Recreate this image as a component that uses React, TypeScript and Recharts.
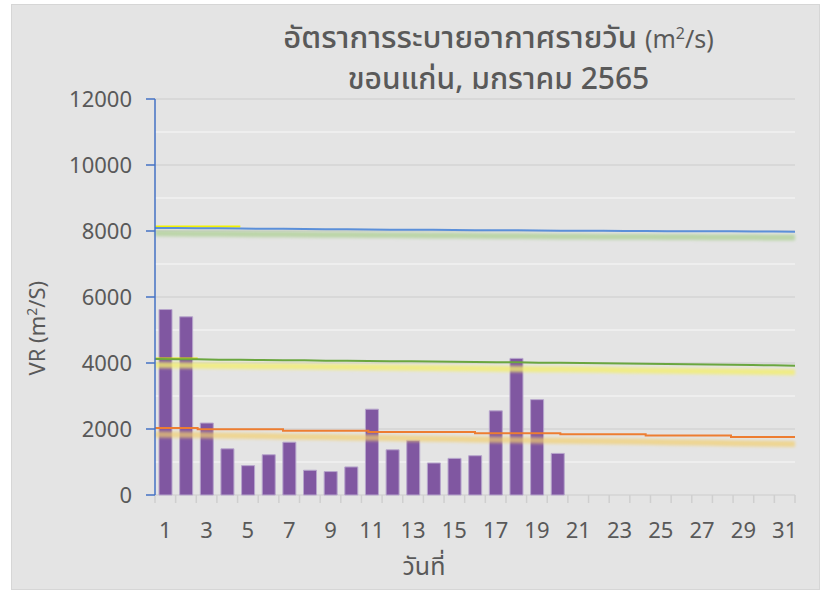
import React from "react";
import {
  ComposedChart,
  Bar,
  Line,
  XAxis,
  YAxis,
  CartesianGrid,
} from "recharts";

// วันที่ 1-31
const days = [
  1, 2, 3, 4, 5, 6, 7, 8, 9, 10, 11, 12, 13, 14, 15, 16, 17, 18, 19, 20, 21,
  22, 23, 24, 25, 26, 27, 28, 29, 30, 31,
];

// daily ventilation rate (bars), only 20 days reported
const vr = [
  5620, 5400, 2180, 1400, 890, 1220, 1600, 750, 710, 850, 2600, 1370, 1660,
  970, 1110, 1190, 2550, 4140, 2890, 1260,
];

// threshold lines
const blueLine = [
  8090, 8090, 8085, 8080, 8075, 8070, 8065, 8060, 8055, 8050, 8045, 8040, 8040,
  8035, 8030, 8025, 8020, 8020, 8015, 8010, 8010, 8005, 8000, 8000, 7995, 7995,
  7990, 7990, 7985, 7985, 7980,
];
const greenLine = [
  4120, 4115, 4110, 4100, 4095, 4090, 4085, 4080, 4070, 4065, 4060, 4055, 4050,
  4045, 4040, 4030, 4025, 4020, 4010, 4005, 4000, 3990, 3985, 3975, 3970, 3960,
  3955, 3945, 3940, 3930, 3920,
];
const orangeLine = [
  2030, 2030, 1990, 1990, 1990, 1990, 1950, 1950, 1950, 1950, 1910, 1910, 1910,
  1910, 1910, 1870, 1870, 1870, 1870, 1840, 1840, 1840, 1840, 1800, 1800, 1800,
  1800, 1760, 1760, 1760, 1760,
];
const yellowTop = [8140, 8140, 8140, 8140, 8140];
const yellowMid = [4135, 4135, 4135];

// soft bands under the lines
const greenBand = [
  7930, 7925, 7920, 7915, 7910, 7905, 7900, 7895, 7890, 7885, 7880, 7875, 7870,
  7865, 7860, 7855, 7850, 7845, 7840, 7835, 7830, 7828, 7825, 7822, 7820, 7817,
  7814, 7810, 7807, 7803, 7800,
];
const yellowBand = [
  3940, 3933, 3926, 3919, 3912, 3905, 3898, 3891, 3884, 3877, 3870, 3863, 3856,
  3849, 3842, 3835, 3828, 3821, 3814, 3807, 3800, 3792, 3784, 3776, 3768, 3760,
  3752, 3744, 3736, 3728, 3720,
];
const orangeBand = [
  1835, 1825, 1815, 1805, 1795, 1785, 1775, 1765, 1755, 1745, 1735, 1725, 1715,
  1705, 1695, 1685, 1675, 1665, 1655, 1645, 1640, 1630, 1620, 1610, 1600, 1590,
  1580, 1570, 1560, 1550, 1545,
];

const yTicks = [0, 2000, 4000, 6000, 8000, 10000, 12000];
const minorLines = [1000, 3000, 5000, 7000, 9000, 11000];
const boundaryTicks = [
  0, 1, 2, 3, 4, 5, 6, 7, 8, 9, 10, 11, 12, 13, 14, 15, 16, 17, 18, 19, 20, 21,
  22, 23, 24, 25, 26, 27, 28, 29, 30, 31,
];

const data = days.map((d, i) => ({
  day: d,
  vr: vr[i] ?? null,
  blue: blueLine[i],
  green: greenLine[i],
  orange: orangeLine[i],
  yTop: yellowTop[i] ?? null,
  yMid: yellowMid[i] ?? null,
  gBand: greenBand[i],
  yBand: yellowBand[i],
  oBand: orangeBand[i],
}));

const FONT = "'Noto Sans Thai', 'Leelawadee UI', 'Noto Sans', 'Open Sans', sans-serif";
const TEXT = "#595959";

export default function App() {
  const titleLine: React.CSSProperties = {
    position: "absolute",
    left: 166,
    right: 0,
    textAlign: "center",
    color: TEXT,
    fontSize: 30,
    fontWeight: 500,
    lineHeight: "30px",
    whiteSpace: "nowrap",
  };
  return (
    <div
      style={{
        position: "absolute",
        left: 11,
        top: 4,
        width: 807,
        height: 584,
        background: "#e4e4e4",
        border: "1px solid #d6d6d6",
        fontFamily: FONT,
      }}
    >
      <div style={{ ...titleLine, top: 19 }}>
        <span style={{ fontSize: 31 }}>อัตราการระบายอากาศรายวัน</span>{" "}
        <span style={{ fontSize: 25, fontWeight: 400 }}>
          (m<sup style={{ fontSize: 16, lineHeight: 0 }}>2</sup>/s)
        </span>
      </div>
      <div style={{ ...titleLine, top: 60 }}>ขอนแก่น, มกราคม 2565</div>
      <div
        style={{
          position: "absolute",
          left: 24 - 100,
          top: 320 - 15,
          width: 200,
          textAlign: "center",
          transform: "rotate(-90deg)",
          color: TEXT,
          fontSize: 22,
          lineHeight: "30px",
        }}
      >
        VR (m<sup style={{ fontSize: 14 }}>2</sup>/S)
      </div>
      <div
        style={{
          position: "absolute",
          left: 312,
          width: 200,
          top: 545,
          textAlign: "center",
          color: TEXT,
          fontSize: 25,
          lineHeight: "34px",
        }}
      >
        วันที่
      </div>
      <ComposedChart
        width={807}
        height={584}
        data={data}
        margin={{ top: 94, right: 24, bottom: 34, left: 0 }}
        style={{ position: "absolute", left: 0, top: 0 }}
      >
        <defs>
          <filter id="soft" x="-5%" y="-200%" width="110%" height="500%">
            <feGaussianBlur stdDeviation="1.6" />
          </filter>
        </defs>
        <CartesianGrid
          xAxisId="c"
          vertical={false}
          horizontalValues={minorLines}
          stroke="#f2f2f2"
          strokeWidth={1.5}
        />
        <CartesianGrid
          xAxisId="c"
          vertical={false}
          horizontalValues={yTicks}
          stroke="#d4d4d4"
          strokeWidth={1.5}
        />
        <XAxis
          xAxisId="a"
          dataKey="day"
          type="number"
          domain={[0, 31]}
          ticks={boundaryTicks}
          tickFormatter={() => ""}
          tickSize={8}
          tickLine={{ stroke: "#cfcfcf", strokeWidth: 1.5 }}
          axisLine={false}
          height={8}
        />
        <XAxis
          xAxisId="c"
          dataKey="day"
          interval={1}
          tickLine={false}
          tickSize={0}
          tickMargin={19}
          axisLine={false}
          tick={{ fill: TEXT, fontSize: 22, fontFamily: FONT }}
          height={52}
        />
        <XAxis xAxisId="z" dataKey="day" scale="point" hide height={0} padding={{ left: 0, right: 0 }} />
        <YAxis
          width={143}
          domain={[0, 12000]}
          ticks={yTicks}
          tickSize={9}
          tickMargin={14}
          axisLine={{ stroke: "#4472c4", strokeWidth: 1.5 }}
          tickLine={{ stroke: "#4472c4", strokeWidth: 1.5 }}
          tick={{ fill: TEXT, fontSize: 22, fontFamily: FONT }}
        />
        <Bar
          xAxisId="c"
          dataKey="vr"
          barSize={13}
          fill="#8057a1"
          stroke="#b7a6cc"
          strokeWidth={1}
          isAnimationActive={false}
        />
        <Line xAxisId="z" dataKey="gBand" stroke="#a9cf8e" strokeWidth={6} strokeOpacity={0.7} filter="url(#soft)" dot={false} isAnimationActive={false} />
        <Line xAxisId="z" dataKey="yBand" stroke="#f3ee6e" strokeWidth={6} strokeOpacity={0.8} filter="url(#soft)" dot={false} isAnimationActive={false} />
        <Line xAxisId="z" dataKey="oBand" stroke="#f2cf6e" strokeWidth={6} strokeOpacity={0.7} filter="url(#soft)" dot={false} isAnimationActive={false} />
        <Line xAxisId="z" dataKey="yTop" stroke="#f2f200" strokeWidth={2} dot={false} connectNulls={false} isAnimationActive={false} />
        <Line xAxisId="z" dataKey="yMid" stroke="#e0e000" strokeWidth={2} dot={false} connectNulls={false} isAnimationActive={false} />
        <Line xAxisId="z" dataKey="blue" stroke="#5b8fd9" strokeWidth={2} dot={false} isAnimationActive={false} />
        <Line xAxisId="z" dataKey="green" stroke="#6aa63f" strokeWidth={2} dot={false} isAnimationActive={false} />
        <Line xAxisId="z" type="stepAfter" dataKey="orange" stroke="#ed7d31" strokeWidth={2} dot={false} isAnimationActive={false} />
      </ComposedChart>
    </div>
  );
}
